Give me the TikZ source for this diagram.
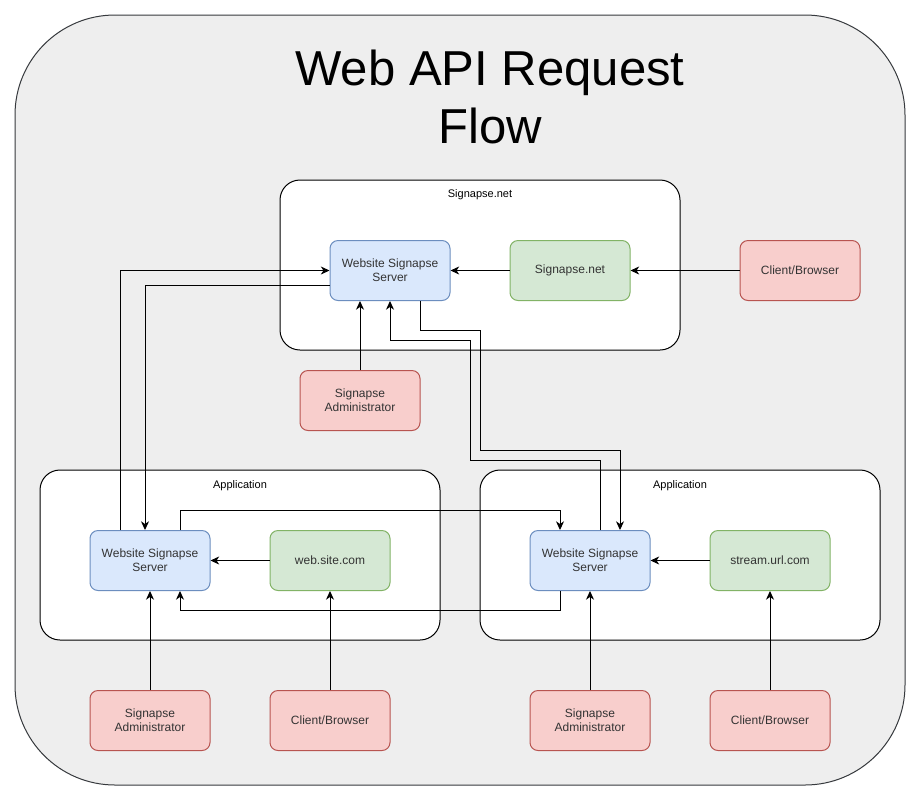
\documentclass[tikz,border=0pt]{standalone}
\usepackage{fontspec}
\setmainfont{Liberation Sans}
\usetikzlibrary{arrows.meta}
\definecolor{bluef}{HTML}{DAE8FC}\definecolor{blued}{HTML}{6C8EBF}
\definecolor{greenf}{HTML}{D5E8D4}\definecolor{greend}{HTML}{82B366}
\definecolor{redf}{HTML}{F8CECC}\definecolor{redd}{HTML}{B85450}
\definecolor{outerf}{HTML}{EEEEEE}\definecolor{outerd}{HTML}{36393D}
\definecolor{txt}{HTML}{333333}
\tikzset{
  box/.style={minimum width=90pt,minimum height=45pt,rounded corners=6pt,line width=0.75pt,align=center,font=\fontsize{9}{10.5}\selectfont,text=txt,inner sep=0pt},
  wss/.style={box,fill=bluef,draw=blued},
  gbox/.style={box,fill=greenf,draw=greend},
  rbox/.style={box,fill=redf,draw=redd},
  cont/.style={fill=white,draw=black,line width=0.75pt,rounded corners=15pt},
  clabel/.style={font=\fontsize{8.25}{10}\selectfont,text=black},
  conn/.style={line width=0.75pt,-{Stealth[length=6.5pt,width=6pt,inset=2pt]}},
  plain/.style={line width=0.75pt}
}
\begin{document}
\begin{tikzpicture}[x=0.75pt,y=-0.75pt]
\useasboundingbox (0,0) rectangle (921,801);
\draw[fill=outerf,draw=outerd,line width=0.75pt,rounded corners=75pt] (15,15) rectangle (905,785);
\node[font=\fontsize{36.8}{43}\selectfont,align=center] (title) at (490,97) {Web API Request\\Flow};
% containers
\draw[cont] (280,180) rectangle (680,350);
\node[clabel] (c0) at (480,194.5) {Signapse.net};
\draw[cont] (40,470) rectangle (440,640);
\node[clabel] (c1) at (240,485.5) {Application};
\draw[cont] (480,470) rectangle (880,640);
\node[clabel] (c2) at (680,485.5) {Application};
% nodes
\node[wss] (ws0) at (390,270.5) {Website Signapse\\Server};
\node[gbox] (sn) at (570,270.5) {Signapse.net};
\node[rbox] (cb0) at (800,270.5) {Client/Browser};
\node[rbox] (ad0) at (360,400.5) {Signapse\\Administrator};
\node[wss] (ws1) at (150,560.5) {Website Signapse\\Server};
\node[gbox] (web) at (330,560.5) {web.site.com};
\node[wss] (ws2) at (590,560.5) {Website Signapse\\Server};
\node[gbox] (st) at (770,560.5) {stream.url.com};
\node[rbox] (ad1) at (150,720.5) {Signapse\\Administrator};
\node[rbox] (cb1) at (330,720.5) {Client/Browser};
\node[rbox] (ad2) at (590,720.5) {Signapse\\Administrator};
\node[rbox] (cb2) at (770,720.5) {Client/Browser};
% connectors
\draw[conn] (cb0.west) -- (sn.east);
\draw[conn] (sn.west) -- (ws0.east);
\draw[conn] (ad0.north) -- (ad0.north |- ws0.south);
\draw[conn] (ws1.north -| 120,0) -- (120,270.5) -- (ws0.west);
\draw[conn] (ws0.south west |- 0,285) -- (145,285) -- (ws1.north -| 145,0);
\draw[conn] (ws0.south -| 420,0) -- (420,330) -- (480,330) -- (480,450) -- (620,450) -- (ws2.north -| 620,0);
\draw[conn] (ws2.north -| 600,0) -- (600,460) -- (470,460) -- (470,340) -- (390,340) -- (ws0.south);
\draw[conn] (ws1.north -| 180,0) -- (180,510) -- (560,510) -- (ws2.north -| 560,0);
\draw[conn] (ws2.south -| 560,0) -- (560,610) -- (180,610) -- (ws1.south -| 180,0);
\draw[conn] (web.west) -- (ws1.east);
\draw[conn] (st.west) -- (ws2.east);
\draw[conn] (ad1.north) -- (ws1.south);
\draw[conn] (cb1.north) -- (web.south);
\draw[conn] (ad2.north) -- (ws2.south);
\draw[conn] (cb2.north) -- (st.south);
\end{tikzpicture}
\end{document}
